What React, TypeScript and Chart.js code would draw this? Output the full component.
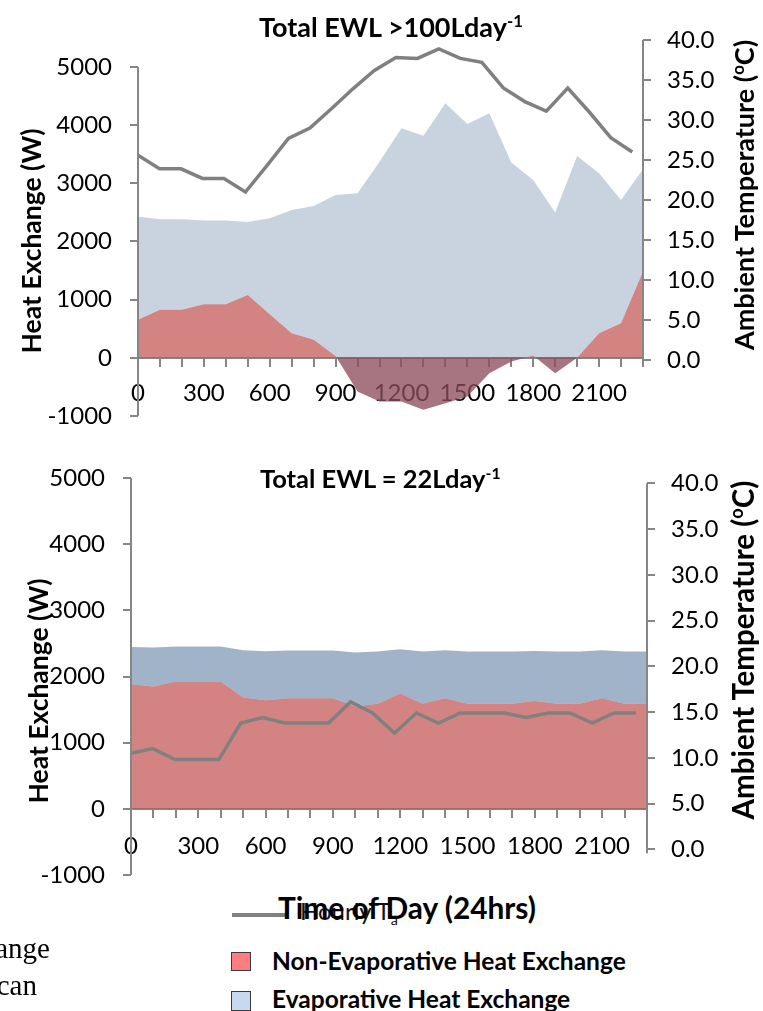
import React, { useEffect, useRef } from "react";
import { Chart, registerables } from "chart.js";

Chart.register(...registerables);

// ---------- data ----------
const hours = [0, 100, 200, 300, 400, 500, 600, 700, 800, 900, 1000, 1100, 1200, 1300, 1400, 1500, 1600, 1700, 1800, 1900, 2000, 2100, 2200, 2300];
const hourLabels = hours.map((h) => String(h));
const heatTicks = [-1000, 0, 1000, 2000, 3000, 4000, 5000];
const tempTicks = [0, 5, 10, 15, 20, 25, 30, 35, 40];

// Top panel: Total EWL >100 L/day
const topNonEvap = [653, 825, 825, 922, 922, 1082, 750, 424, 309, 30, -579, -750, -750, -893, -779, -665, -263, -63, 40, -263, 0, 424, 596, 1483];
const topEvap = [1775, 1558, 1558, 1437, 1437, 1255, 1650, 2119, 2303, 2771, 3409, 4123, 4696, 4713, 5155, 4686, 4467, 3419, 3018, 2760, 3471, 2749, 2119, 1764];
const topTemp = [25.6, 23.9, 23.9, 22.7, 22.7, 21.0, 24.3, 27.7, 29.0, 31.4, 33.9, 36.2, 37.8, 37.7, 38.9, 37.7, 37.2, 34.0, 32.3, 31.1, 34.0, 31.0, 27.8, 26.0];

// Bottom panel: Total EWL = 22 L/day
const bottomNonEvap = [1883, 1848, 1923, 1923, 1923, 1682, 1642, 1672, 1672, 1672, 1545, 1590, 1742, 1590, 1672, 1590, 1590, 1590, 1631, 1590, 1590, 1672, 1590, 1590];
const bottomEvap = [564, 589, 529, 529, 529, 715, 740, 720, 720, 720, 817, 787, 670, 787, 725, 787, 787, 787, 756, 787, 787, 725, 787, 787];
const bottomTemp = [10.5, 11.0, 9.8, 9.8, 9.8, 13.8, 14.4, 13.8, 13.8, 13.8, 16.1, 14.9, 12.7, 14.9, 13.8, 14.9, 14.9, 14.9, 14.4, 14.9, 14.9, 13.8, 14.9, 14.9];

// ---------- styles ----------
const AXIS_GRAY = "#868686";
const LINE_GRAY = "#808080";
const RED_FILL = "rgba(192, 80, 77, 0.7)";
const FONT = "Lato, 'Open Sans', sans-serif";
const TICK_FONT = { family: FONT, size: 24 };

const axisLinesPlugin = {
  id: "axisLines",
  afterDatasetsDraw(chart: any, _args: any, opts: any) {
    const { ctx, chartArea, scales } = chart;
    ctx.save();
    ctx.strokeStyle = AXIS_GRAY;
    ctx.lineWidth = 2;
    ctx.beginPath();
    ctx.moveTo(chartArea.left, scales.y.getPixelForValue(opts.leftFrom));
    ctx.lineTo(chartArea.left, scales.y.getPixelForValue(opts.leftTo));
    ctx.moveTo(chartArea.right, scales.y1.getPixelForValue(opts.rightFrom));
    ctx.lineTo(chartArea.right, scales.y1.getPixelForValue(opts.rightTo) + 4);
    ctx.stroke();
    ctx.restore();
  },
};

type PanelProps = {
  top: number;
  height: number;
  nonEvap: number[];
  evap: number[];
  temp: number[];
  leftMax: number;
  rightMin: number;
  rightMax: number;
  blue: string;
  padTop: number;
  padBottom: number;
  leftWidth: number;
  rightWidth: number;
  xPad: number;
};

const noPad = (s: any) => {
  s.paddingTop = 0;
  s.paddingBottom = 0;
  s.paddingLeft = 0;
  s.paddingRight = 0;
};

function Panel(p: PanelProps) {
  const ref = useRef<HTMLCanvasElement>(null);
  useEffect(() => {
    const canvas = ref.current;
    if (!canvas) return;
    const totals = p.nonEvap.map((v, i) => v + p.evap[i]);
    const chart = new Chart(canvas, {
      type: "line",
      data: {
        labels: hourLabels,
        datasets: [
          {
            label: "Non-Evaporative Heat Exchange",
            data: p.nonEvap,
            xAxisID: "x",
            yAxisID: "y",
            fill: "origin",
            backgroundColor: RED_FILL,
            borderColor: "rgba(0,0,0,0)",
            borderWidth: 0,
            pointRadius: 0,
            order: 2,
          },
          {
            label: "Evaporative Heat Exchange",
            data: totals,
            xAxisID: "x",
            yAxisID: "y",
            fill: "-1",
            backgroundColor: p.blue,
            borderColor: "rgba(0,0,0,0)",
            borderWidth: 0,
            pointRadius: 0,
            order: 1,
          },
          {
            label: "Hourly Ta",
            data: p.temp.map((t, i) => ({ x: hours[i], y: t })),
            xAxisID: "x2",
            yAxisID: "y1",
            fill: false,
            borderColor: LINE_GRAY,
            borderWidth: 3.5,
            pointRadius: 0,
            order: 0,
          },
        ],
      } as any,
      options: {
        responsive: false,
        animation: false,
        events: [],
        layout: { padding: { top: p.padTop, bottom: p.padBottom, left: 0, right: 0 } },
        plugins: {
          legend: { display: false },
          title: { display: false },
          tooltip: { enabled: false },
          axisLines: { leftFrom: 5000, leftTo: -1000, rightFrom: 40, rightTo: 0 },
        } as any,
        scales: {
          x: {
            type: "category",
            position: { y: 0 } as any,
            offset: false,
            z: 1,
            afterFit: noPad,
            grid: { display: true, drawOnChartArea: false, drawTicks: true, tickLength: 8, color: AXIS_GRAY, lineWidth: 2 },
            border: { display: true, color: AXIS_GRAY, width: 2 },
            ticks: {
              autoSkip: false,
              maxRotation: 0,
              minRotation: 0,
              padding: p.xPad,
              color: "#000",
              font: TICK_FONT,
              callback: (_v: any, index: number) => (index % 3 === 0 ? hourLabels[index] : ""),
            },
          },
          x2: { type: "linear", display: false, min: 0, max: 2350 },
          y: {
            type: "linear",
            position: "left",
            min: -1000,
            max: p.leftMax,
            z: 1,
            afterBuildTicks: (s: any) => {
              s.ticks = heatTicks.map((v) => ({ value: v }));
            },
            afterFit: (s: any) => {
              s.width = p.leftWidth;
              noPad(s);
            },
            grid: { display: true, drawOnChartArea: false, drawTicks: true, tickLength: 8, color: AXIS_GRAY, lineWidth: 2 },
            border: { display: false },
            ticks: { padding: 18, color: "#000", font: TICK_FONT, callback: (v: any) => String(v) },
          },
          y1: {
            type: "linear",
            position: "right",
            min: p.rightMin,
            max: p.rightMax,
            z: 1,
            afterBuildTicks: (s: any) => {
              s.ticks = tempTicks.map((v) => ({ value: v }));
            },
            afterFit: (s: any) => {
              s.width = p.rightWidth;
              noPad(s);
            },
            grid: { display: true, drawOnChartArea: false, drawTicks: true, tickLength: 8, color: AXIS_GRAY, lineWidth: 2 },
            border: { display: false },
            ticks: { padding: 16, color: "#000", font: TICK_FONT, callback: (v: any) => Number(v).toFixed(1) },
          },
        } as any,
      },
      plugins: [axisLinesPlugin],
    });
    return () => chart.destroy();
  }, []);
  return (
    <canvas
      ref={ref}
      width={763}
      height={p.height}
      style={{ position: "absolute", left: 0, top: p.top, width: 763, height: p.height }}
    />
  );
}

function Txt(props: { left?: number; right?: number; top: number; size: number; bold?: boolean; serif?: boolean; color?: string; children: any }) {
  return (
    <div
      style={{
        position: "absolute",
        left: props.left,
        right: props.right,
        top: props.top,
        fontFamily: props.serif ? "'Liberation Serif', 'Times New Roman', serif" : FONT,
        fontSize: props.size,
        fontWeight: props.bold ? 700 : 400,
        lineHeight: 1,
        whiteSpace: "nowrap",
        color: props.color || "#000",
      }}
    >
      {props.children}
    </div>
  );
}

// rotated axis title, centred exactly on (cx, cy)
function VTitle(props: { cx: number; cy: number; size: number; children: any }) {
  const W = 500;
  const H = 40;
  return (
    <div
      style={{
        position: "absolute",
        left: props.cx - W / 2,
        top: props.cy - H / 2,
        width: W,
        height: H,
        lineHeight: H + "px",
        textAlign: "center",
        transform: "rotate(-90deg)",
        transformOrigin: "50% 50%",
        fontFamily: FONT,
        fontSize: props.size,
        fontWeight: 700,
        whiteSpace: "nowrap",
        color: "#000",
      }}
    >
      {props.children}
    </div>
  );
}

const sup = (t: string) => (
  <span style={{ fontSize: "0.62em", position: "relative", top: "-0.6em" }}>{t}</span>
);

export default function App() {
  return (
    <div
      style={{
        position: "absolute",
        left: 0,
        top: 0,
        width: 763,
        height: 1011,
        overflow: "hidden",
        background: "#fff",
      }}
    >
      <Panel
        top={0}
        height={440}
        nonEvap={topNonEvap}
        evap={topEvap}
        temp={topTemp}
        leftMax={5464}
        rightMin={-7}
        rightMax={40}
        blue="rgba(31, 73, 125, 0.24)"
        padTop={40}
        padBottom={24}
        leftWidth={138}
        rightWidth={120}
        xPad={13}
      />
      <Panel
        top={440}
        height={450}
        nonEvap={bottomNonEvap}
        evap={bottomEvap}
        temp={bottomTemp}
        leftMax={5000}
        rightMin={-2.81}
        rightMax={40.58}
        blue="rgba(31, 73, 125, 0.42)"
        padTop={38}
        padBottom={15}
        leftWidth={131}
        rightWidth={116}
        xPad={15}
      />

      {/* chart titles */}
      <Txt left={259} top={13} size={27} bold>
        Total EWL &gt;100Lday{sup("-1")}
      </Txt>
      <Txt left={260} top={466} size={25.5} bold>
        Total EWL = 22Lday{sup("-1")}
      </Txt>

      {/* axis titles */}
      <VTitle cx={31} cy={241} size={26.5}>Heat Exchange (W)</VTitle>
      <VTitle cx={744} cy={195} size={27}>
        Ambient Temperature ({sup("o")}C)
      </VTitle>
      <VTitle cx={38} cy={691} size={26.5}>Heat Exchange (W)</VTitle>
      <VTitle cx={743} cy={650} size={29.5}>
        Ambient Temperature ({sup("o")}C)
      </VTitle>

      {/* legend + x-axis title */}
      <div style={{ position: "absolute", left: 232, top: 913, width: 56, height: 4, background: LINE_GRAY }} />
      <Txt left={300} top={899} size={24} color="#111">
        Hourly T<span style={{ fontSize: "0.6em", position: "relative", top: "0.35em" }}>a</span>
      </Txt>
      <Txt left={278} top={893} size={29.8} bold>
        Time of Day (24hrs)
      </Txt>
      <div
        style={{
          position: "absolute",
          left: 231,
          top: 952,
          width: 20,
          height: 19,
          boxSizing: "border-box",
          border: "1.5px solid #3a3a3a",
          background: "#FF7C80",
        }}
      />
      <Txt left={272} top={949} size={24.5} bold>
        Non-Evaporative Heat Exchange
      </Txt>
      <div
        style={{
          position: "absolute",
          left: 231,
          top: 991,
          width: 20,
          height: 20,
          boxSizing: "border-box",
          border: "1.5px solid #3a3a3a",
          background: "#C6D9F1",
        }}
      />
      <Txt left={272} top={987} size={24.5} bold>
        Evaporative Heat Exchange
      </Txt>

      {/* surrounding page text */}
      <Txt right={713} top={934} size={29} serif>
        ange
      </Txt>
      <Txt right={726} top={971} size={29} serif>
        can
      </Txt>
    </div>
  );
}
